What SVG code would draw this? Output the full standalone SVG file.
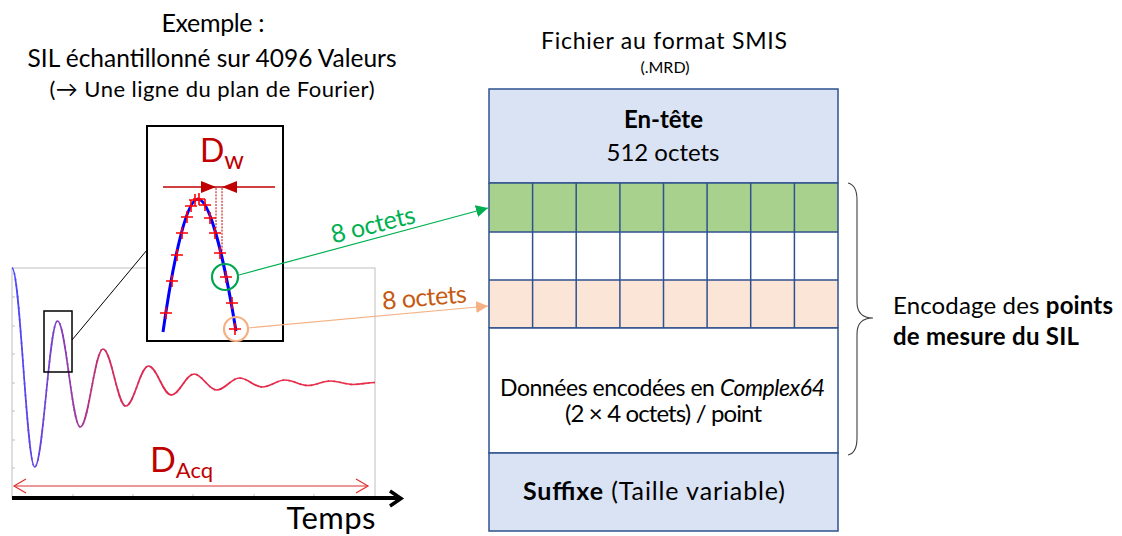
<svg xmlns="http://www.w3.org/2000/svg" width="1122" height="536" viewBox="0 0 1122 536">
<style>
text{font-family:Lato,"DejaVu Sans",sans-serif;fill:#000}
.t{font-size:25px}
.b{font-size:24px}
.red{fill:#c00000}
.cell{stroke:#2f528f;stroke-width:1.5}
.grid{stroke:#2f528f;stroke-width:1.5;fill:none}
.cr{stroke:#ff0000;stroke-width:1.6;fill:none}
.tick{stroke:#bfbfbf;stroke-width:1}
</style>
<defs>
<path id="cross" d="M-6,0H6M0,-6V6"/>
<linearGradient id="sig" gradientUnits="userSpaceOnUse" x1="12" y1="0" x2="375" y2="0">
<stop offset="0" stop-color="#4848ff"/>
<stop offset="0.12" stop-color="#7a40c8"/>
<stop offset="0.26" stop-color="#d02c60"/>
<stop offset="0.45" stop-color="#e4284a"/>
<stop offset="1" stop-color="#e8304a"/>
</linearGradient>
<marker id="ag" viewBox="0 0 10 10" refX="10" refY="5" markerWidth="12" markerHeight="12" markerUnits="userSpaceOnUse" orient="auto"><path d="M0,0L10,5L0,10z" fill="#00b050"/></marker>
<marker id="ao" viewBox="0 0 10 10" refX="10" refY="5" markerWidth="12" markerHeight="12" markerUnits="userSpaceOnUse" orient="auto"><path d="M0,0L10,5L0,10z" fill="#f4b183"/></marker>
</defs>
<rect width="1122" height="536" fill="#fff"/>

<g id="title">
<text class="t" x="213" y="32" text-anchor="middle" textLength="103">Exemple :</text>
<text x="212" y="67" font-size="24.5" text-anchor="middle" textLength="369">SIL échantillonné sur 4096 Valeurs</text>
<text x="212" y="97" text-anchor="middle" font-size="22" textLength="325">(→ Une ligne du plan de Fourier)</text>
</g>

<g id="chart">
<rect x="12" y="268" width="363" height="230" fill="none" stroke="#bfbfbf" stroke-width="1"/>
<path class="tick" d="M12,297h3M12,326h3M12,354h3M12,383h3M12,411h3M12,440h3M12,468h3M73,498v-4M133,498v-4M193,498v-4M254,498v-4M314,498v-4"/>
<path id="signal" d="M12,268 C20.27,268 26.48,467 34.75,467 S49.23,321 57.5,321 S71.98,427 80.25,427 S94.73,349 103,349 S117.48,406 125.75,406 S140.23,366 148.5,366 S162.98,395 171.25,395 S185.73,374 194,374 S208.48,390 216.75,390 S231.23,378 239.5,378 S253.98,387 262.25,387 S276.73,380 285,380 S299.48,385.5 307.75,385.5 S322.23,381 330.5,381 S345,384.5 353.25,384.5 S367.7,382.5 375,382.5" fill="none" stroke="url(#sig)" stroke-width="1.7"/>
<use href="#signal" stroke="#ff1a1a" stroke-width="3.2" stroke-dasharray="1.6 4.2" fill="none" opacity="0.9"/>
<line x1="12" y1="498" x2="400" y2="498" stroke="#000" stroke-width="4"/>
<polyline points="390,491 401,498.5 390,506" fill="none" stroke="#000" stroke-width="3.5"/>
<line x1="14" y1="486" x2="368" y2="486" stroke="#e03030" stroke-width="1.2"/>
<polyline points="26,479 14,486 26,493" fill="none" stroke="#e03030" stroke-width="1.2"/>
<polyline points="356,479 368,486 356,493" fill="none" stroke="#e03030" stroke-width="1.2"/>
<text class="red" x="150" y="472" font-size="34">D<tspan font-size="22" dy="6">Acq</tspan></text>
<text x="331" y="529" font-size="31" text-anchor="middle" textLength="89">Temps</text>
<rect x="44" y="311" width="28" height="61" fill="none" stroke="#000" stroke-width="1.5"/>
<line x1="72" y1="340" x2="147" y2="250" stroke="#000" stroke-width="1"/>
</g>

<g id="zoom">
<rect x="147" y="126" width="136" height="215" fill="#fff" stroke="#000" stroke-width="2"/>
<text class="red" x="200" y="162" font-size="32">D<tspan font-size="25" dy="7">w</tspan></text>
<line x1="163" y1="187" x2="275" y2="187" stroke="#c00000" stroke-width="1.3"/>
<path d="M201,181L216,187L201,193zM237,181L222,187L237,193z" fill="#c00000"/>
<path d="M216,188V228M222,188V254" stroke="#c00000" stroke-width="1" stroke-dasharray="2 1.2"/>
<path d="M163,332 C171,275 185,199 198,199 C211,199 226,270 236,331" fill="none" stroke="#0000ff" stroke-width="3"/>
<g class="cr">
<use href="#cross" x="166" y="313"/><use href="#cross" x="172" y="281"/><use href="#cross" x="177" y="255"/><use href="#cross" x="182" y="233"/><use href="#cross" x="187" y="217"/><use href="#cross" x="191" y="206"/><use href="#cross" x="195" y="200"/><use href="#cross" x="199" y="199"/><use href="#cross" x="205" y="205"/><use href="#cross" x="210" y="218"/><use href="#cross" x="215" y="233"/><use href="#cross" x="220" y="253"/><use href="#cross" x="226" y="277"/><use href="#cross" x="232" y="303"/><use href="#cross" x="235" y="329"/>
</g>
<circle cx="225" cy="277" r="13" fill="none" stroke="#00a550" stroke-width="2.2"/>
<circle cx="236" cy="329" r="12" fill="none" stroke="#f4b183" stroke-width="2.2"/>
</g>

<g id="file-title">
<text x="664" y="49" font-size="23" text-anchor="middle" textLength="246">Fichier au format SMIS</text>
<text x="665" y="73" font-size="16" text-anchor="middle" textLength="49">(.MRD)</text>
</g>

<g id="header">
<rect class="cell" x="489" y="89" width="349" height="94" fill="#dae3f3"/>
<text class="b" x="663.5" y="128" font-weight="bold" text-anchor="middle" textLength="79">En-tête</text>
<text class="b" x="663" y="161" text-anchor="middle" textLength="113">512 octets</text>
</g>

<g id="rows">
<rect x="489" y="183" width="349" height="49" fill="#a9d18e"/>
<rect x="489" y="232" width="349" height="48" fill="#fff"/>
<rect x="489" y="280" width="349" height="48" fill="#fbe5d6"/>
<path class="grid" d="M489,183V328M838,183V328M489,183H838M489,232H838M489,280H838M489,328H838M532.6,183V328M576.2,183V328M619.9,183V328M663.5,183V328M707.1,183V328M750.7,183V328M794.4,183V328"/>
</g>

<g id="data">
<rect class="cell" x="489" y="328" width="349" height="125" fill="#fff"/>
<text x="662.5" y="396" font-size="23" text-anchor="middle" textLength="325">Données encodées en <tspan font-style="italic">Complex64</tspan></text>
<text class="b" x="663.5" y="422" text-anchor="middle" textLength="197">(2 × 4 octets) / point</text>
</g>

<g id="suffix">
<rect class="cell" x="489" y="453" width="349" height="78" fill="#dae3f3"/>
<text x="654" y="500" font-size="25" text-anchor="middle" textLength="262"><tspan font-weight="bold">Suffixe</tspan> (Taille variable)</text>
</g>

<g id="brace-label">
<path d="M848,183 Q857,185 857,200 L857,302 Q857,318 873,318 Q857,318 857,334 L857,438 Q857,453 848,455" fill="none" stroke="#404040" stroke-width="1.1"/>
<text class="b" x="893" y="314" textLength="220">Encodage des <tspan font-weight="bold">points</tspan></text>
<text class="b" x="893" y="345" font-weight="bold" textLength="186">de mesure du SIL</text>
</g>

<g id="connectors">
<line x1="239" y1="275" x2="488" y2="208" stroke="#00b050" stroke-width="1.2" marker-end="url(#ag)"/>
<line x1="248" y1="328" x2="488" y2="306" stroke="#f4b183" stroke-width="1.2" marker-end="url(#ao)"/>
<text x="375" y="233" font-size="25" style="fill:#00b050" text-anchor="middle" textLength="86" transform="rotate(-14 375 233)">8 octets</text>
<text x="425" y="306" font-size="25" style="fill:#c55a11" text-anchor="middle" textLength="85" transform="rotate(-5 425 306)">8 octets</text>
</g>
</svg>
